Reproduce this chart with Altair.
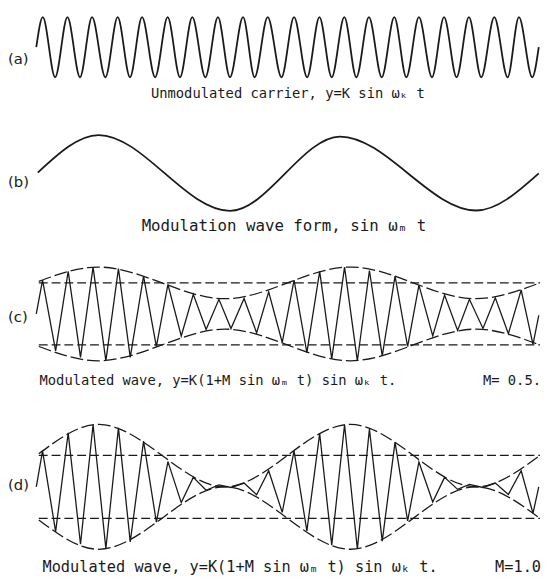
import altair as alt
import pandas as pd

# ---------------- values ----------------
# time in carrier periods (0 .. 20), amplitude in units of K

# (a) unmodulated carrier: start, alternating peaks / troughs, end
a_t = [0.0, 0.26, 0.75, 1.24, 1.74, 2.22, 2.75, 3.24, 3.73, 4.21, 4.73,
       5.23, 5.72, 6.21, 6.73, 7.23, 7.71, 8.23, 8.69, 9.21, 9.76,
       10.26, 10.78, 11.27, 11.76, 12.26, 12.74, 13.24, 13.75, 14.25, 14.73,
       15.23, 15.75, 16.23, 16.73, 17.22, 17.71, 18.23, 18.76, 19.21, 19.74, 20.0]
a_y = [0.0, 1, -1, 1, -1, 1, -1, 1, -1, 1, -1,
       1, -1, 1, -1, 1, -1, 1, -1, 1, -1,
       1, -1, 1, -1, 1, -1, 1, -1, 1, -1,
       1, -1, 1, -1, 1, -1, 1, -1, 1, -1, 0.0]

# (b) modulation wave: start, extrema, end
b_t = [0.06, 2.48, 7.71, 12.09, 17.51, 20.0]
b_y = [0.02, 1.01, -0.99, 0.97, -0.98, 0.0]

# (c), (d) zig-zag vertices of the modulated carrier
zig_t = [0.0, 0.25, 0.77, 1.27, 1.76, 2.26, 2.77, 3.27, 3.74, 4.27, 4.78,
         5.24, 5.77, 6.25, 6.76, 7.27, 7.75, 8.27, 8.77, 9.25, 9.79,
         10.26, 10.77, 11.28, 11.76, 12.27, 12.78, 13.26, 13.77, 14.28, 14.78,
         15.23, 15.78, 16.25, 16.77, 17.24, 17.78, 18.27, 18.79, 19.3, 19.77, 20.0]
c_y = [0.0, 1.09, -1.19, 1.37, -1.40, 1.51, -1.51, 1.46, -1.40, 1.22, -1.05,
       0.95, -0.71, 0.63, -0.50, 0.47, -0.47, 0.50, -0.61, 0.71, -0.92,
       1.09, -1.25, 1.37, -1.45, 1.51, -1.51, 1.40, -1.35, 1.22, -1.05,
       0.93, -0.71, 0.61, -0.53, 0.47, -0.47, 0.52, -0.64, 0.77, -0.98, -0.05]
d_y = [0.0, 1.14, -1.42, 1.71, -1.82, 1.97, -1.96, 1.87, -1.75, 1.45, -1.12,
       0.80, -0.50, 0.30, -0.11, 0.06, -0.02, 0.12, -0.25, 0.51, -0.81,
       1.14, -1.40, 1.69, -1.85, 1.97, -1.97, 1.83, -1.72, 1.42, -1.08,
       0.79, -0.48, 0.30, -0.08, 0.08, -0.02, 0.12, -0.24, 0.51, -0.84, 0.0]

# dashed envelopes
env_t = [0.1, 2.5, 5.0, 7.5, 10.0, 12.5, 15.0, 17.5, 20.05]
c_env_up = [1.05, 1.51, 1.0, 0.49, 1.0, 1.51, 1.0, 0.49, 1.0]
c_env_lo = [-1.05, -1.51, -1.0, -0.49, -1.0, -1.51, -1.0, -0.49, -1.0]
d_env_up = [1.05, 1.98, 1.0, 0.0, 1.0, 1.98, 1.0, 0.0, 1.0]
d_env_lo = [-1.05, -1.98, -1.0, 0.0, -1.0, -1.98, -1.0, 0.0, -1.0]

# dashed reference levels (+K, -K) and their extent
ref_levels = [1.0, -1.0]
ref_t = [0.1, 20.05]

# texts
panel_labels = ["(a)", "(b)", "(c)", "(d)"]
captions = [
    "Unmodulated carrier, y=K sin \u03c9\u2096 t",
    "Modulation wave form, sin \u03c9\u2098 t",
    "Modulated wave, y=K(1+M sin \u03c9\u2098 t) sin \u03c9\u2096 t.",
    "Modulated wave, y=K(1+M sin \u03c9\u2098 t) sin \u03c9\u2096 t.",
]
m_labels = ["M= 0.5.", "M=1.0"]

# ---------------- layout (pixels) ----------------
W, H = 543, 575
X0, PX_PER_T = 28.7, 25.5          # pixel of t=0, pixels per carrier period
panel_center = {"a": 35.5, "b": 163.5, "c": 306.2, "d": 481.7}
panel_k = {"a": 30.5, "b": 38.5, "c": 31.5, "d": 32.0}

x_scale = alt.Scale(domain=[-X0 / PX_PER_T, (W - X0) / PX_PER_T], nice=False, zero=False)


def y_scale(p):
    c, k = panel_center[p], panel_k[p]
    return alt.Scale(domain=[-(H - c) / k, c / k], nice=False, zero=False)


INK = "#1a1a1a"


def wave(t, y, p, interp, sw):
    df = pd.DataFrame({"t": t, "y": y})
    return alt.Chart(df).mark_line(color=INK, strokeWidth=sw, interpolate=interp).encode(
        x=alt.X("t:Q", scale=x_scale, axis=None),
        y=alt.Y("y:Q", scale=y_scale(p), axis=None),
        order="t:Q",
    )


def env(t, y, p):
    df = pd.DataFrame({"t": t, "y": y})
    return alt.Chart(df).mark_line(color=INK, strokeWidth=1.3, strokeDash=[13, 4],
                                   interpolate="natural").encode(
        x=alt.X("t:Q", scale=x_scale, axis=None),
        y=alt.Y("y:Q", scale=y_scale(p), axis=None),
    )


def refs(p):
    df = pd.DataFrame({"lvl": ref_levels, "t0": ref_t[0], "t1": ref_t[1]})
    return alt.Chart(df).mark_rule(color=INK, strokeWidth=1.2, strokeDash=[9, 4]).encode(
        x=alt.X("t0:Q", scale=x_scale, axis=None),
        x2="t1:Q",
        y=alt.Y("lvl:Q", scale=y_scale(p), axis=None),
    )


layers = [
    wave(a_t, a_y, "a", "monotone", 1.8),
    wave(b_t, b_y, "b", "monotone", 1.8),
    refs("c"), env(env_t, c_env_up, "c"), env(env_t, c_env_lo, "c"),
    wave(zig_t, c_y, "c", "linear", 1.3),
    refs("d"), env(env_t, d_env_up, "d"), env(env_t, d_env_lo, "d"),
    wave(zig_t, d_y, "d", "linear", 1.3),
]

# panel labels
lab = pd.DataFrame({"text": panel_labels, "px": [0, 0, 0, 0], "py": [48, 172.5, 309, 480]})
layers.append(
    alt.Chart(lab).mark_text(align="left", baseline="middle", color=INK,
                             font="DejaVu Sans", fontSize=15).encode(
        x=alt.X("px:Q", scale=None), y=alt.Y("py:Q", scale=None), text="text:N")
)

# captions (pixel placement)
txt = pd.DataFrame({
    "text": captions + m_labels,
    "px": [284, 280, 32, 35, 541, 541],
    "py": [83, 217, 374, 563, 374, 563],
    "align": ["center", "center", "left", "left", "right", "right"],
    "size": [14, 16, 14, 15.5, 14, 15.5],
})
for al in ["center", "left", "right"]:
    sub = txt[txt["align"] == al]
    layers.append(
        alt.Chart(sub).mark_text(align=al, baseline="middle", color=INK,
                                 font="DejaVu Sans Mono").encode(
            x=alt.X("px:Q", scale=None),
            y=alt.Y("py:Q", scale=None),
            text="text:N",
            size=alt.Size("size:Q", scale=None),
        )
    )

chart = alt.layer(*layers).resolve_scale(y="independent").properties(
    width=W, height=H, padding=0, autosize=alt.AutoSizeParams(type="none"),
    background="white",
).configure_view(stroke=None)

chart.save("out.html", embed_options={"renderer": "svg", "actions": False})
